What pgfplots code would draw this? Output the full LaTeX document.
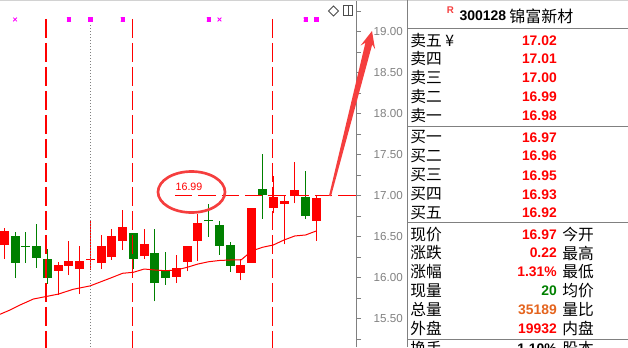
\documentclass[border=0pt]{standalone}
\usepackage{pgfplots}
\pgfplotsset{compat=1.18}
\usepackage{pgfplotstable}
\usepackage{fontspec}
\setmainfont{Liberation Sans}
\newfontfamily\cjk{Noto Sans CJK SC}
\definecolor{upred}{RGB}{255,0,0}
\definecolor{dngreen}{RGB}{0,128,0}
\definecolor{axgray}{RGB}{128,128,128}
\definecolor{mag}{RGB}{255,0,255}
\definecolor{anno}{RGB}{245,62,62}
\definecolor{volc}{RGB}{228,100,30}

% candles: index, body low/high, wick low/high
\pgfplotstableread{
i blo bhi wlo whi
1 16.397 16.568 16.234 16.601
6 16.082 16.152 15.793 16.192
7 16.143 16.201 16.038 16.446
8 16.106 16.201 15.800 16.384
9 16.216 16.228 16.099 16.690
10 16.180 16.384 16.106 16.519
11 16.250 16.507 16.222 16.596
12 16.449 16.617 16.335 16.821
14 16.262 16.409 16.234 16.592
17 16.009 16.115 15.935 16.283
18 16.195 16.384 16.078 16.384
19 16.449 16.662 16.204 16.776
23 16.062 16.160 15.968 16.234
24 16.180 16.853 16.180 16.853
26 16.853 16.988 16.785 17.241
27 16.898 16.939 16.405 17.009
28 17.000 17.070 16.907 17.412
30 16.694 16.968 16.449 17.009
}\redk
\pgfplotstableread{
i blo bhi wlo whi
2 16.180 16.507 15.996 16.556
3 16.375 16.387 16.180 16.556
4 16.241 16.384 16.119 16.654
5 15.996 16.234 15.928 16.356
13 16.229 16.547 16.103 16.547
15 15.935 16.299 15.711 16.592
16 15.996 16.078 15.916 16.315
20 16.688 16.700 16.498 16.898
21 16.388 16.641 16.283 16.690
22 16.143 16.393 16.070 16.433
25 17.012 17.082 16.718 17.510
29 16.755 16.988 16.715 17.302
}\grnk

\begin{document}
\begin{tikzpicture}
\path[use as bounding box, clip] (0,0) rectangle (471pt,-260.25pt);
\begin{axis}[at={(0,0)}, anchor=north west, scale only axis,
  width=267pt, height=260.25pt,
  xmin=0.6003, xmax=33.69, ymin=15.1549, ymax=19.3866,
  axis x line=none, axis y line*=right,
  axis line style={-, axgray, line width=0.75pt},
  ytick={15.5,16,16.5,17,17.5,18,18.5,19},
  minor ytick={15.25,15.75,16.25,16.75,17.25,17.75,18.25,18.75,19.25},
  tick align=outside, major tick length=3.75pt, minor tick length=3.75pt,
  every tick/.style={axgray, line width=0.75pt},
  /pgf/number format/assume math mode=true,
  yticklabel style={text=axgray, font=\fontsize{8.7}{10}\selectfont, xshift=6pt,
    /pgf/number format/.cd, fixed, fixed zerofill, precision=2},
  clip=true]
\addplot[upred, line width=0.75pt, quiver={u=0, v=\thisrow{whi}-\thisrow{wlo}}] table[x=i, y=wlo] {\redk};
\addplot[upred, line width=6.75pt, quiver={u=0, v=\thisrow{bhi}-\thisrow{blo}}] table[x=i, y=blo] {\redk};
\addplot[dngreen, line width=0.75pt, quiver={u=0, v=\thisrow{whi}-\thisrow{wlo}}] table[x=i, y=wlo] {\grnk};
\addplot[dngreen, line width=6.75pt, quiver={u=0, v=\thisrow{bhi}-\thisrow{blo}}] table[x=i, y=blo] {\grnk};
% moving average
\addplot[upred, line width=0.75pt] coordinates {(0.6,15.554) (1.53,15.606) (2.46,15.667) (3.70,15.740) (4.78,15.768) (6.02,15.800) (7.41,15.859) (8.97,15.900) (10.82,15.993) (12,16.054) (13,16.066) (14,16.106) (15,16.094) (16,16.085) (17,16.094) (18,16.127) (19,16.167) (20,16.195) (21,16.21) (22,16.216) (23,16.216) (24,16.326) (25,16.371) (26,16.399) (27,16.460) (28,16.509) (29,16.521) (30,16.570)};
% markers
\addplot[upred, line width=0.9pt, dash pattern=on 13.9pt off 4.1pt] coordinates {(4.876,19.155) (4.876,15.0)};
\addplot[upred, line width=0.9pt, dash pattern=on 13.9pt off 4.1pt] coordinates {(12.935,19.155) (12.935,15.0)};
\addplot[upred, line width=0.9pt, dash pattern=on 13.9pt off 4.1pt] coordinates {(25.91,19.155) (25.91,15.0)};
\addplot[axgray, line width=0.75pt, dash pattern=on 0.75pt off 1.5pt] coordinates {(8.99,19.08) (8.99,15.0)};
\addplot[upred, line width=1pt, dash pattern=on 13pt off 4.5pt] coordinates {(16.87,17) (33.69,17)};
\addplot[only marks, mag, mark=square*, mark size=1.3pt] coordinates {(7,19.149) (9,19.149) (12,19.149) (20,19.149) (29,19.149) (30,19.149)};
\addplot[only marks, mag, mark=x, mark size=2pt, line width=0.6pt] coordinates {(7,19.149) (9,19.149) (12,19.149) (20,19.149) (29,19.149) (30,19.149) (2,19.149) (21,19.149)};
\end{axis}

\begin{scope}[x=0.75pt, y=-0.75pt]
\draw[gray!35, line width=0.75pt] (0,0.5) -- (628,0.5);
% icons
\draw[black!70, line width=0.6pt] (333.5,6) -- (338.5,11) -- (333.5,16) -- (328.5,11) -- cycle;
\draw[black!70, line width=0.6pt] (343.5,5.5) rectangle (352.5,15.5) (348.3,5.5) -- (348.3,15.5);
% annotation
\draw[anno, line width=2pt] (191.5,192) ellipse [x radius=33.5, y radius=20.5];
\node[text=upred, font=\fontsize{8}{9}\selectfont, inner sep=0] at (189,186.5) {16.99};
\fill[anno] (329.0,195.75) -- (365.4,42.7) -- (360.5,45.6) -- (372,31) -- (375.1,49.3) -- (372.2,44.5) -- (331,196.25) -- cycle;
% quote panel
\draw[axgray, line width=0.75pt] (407,0) -- (407,347);
\foreach \yy in {28.3,126,222.7,339} \draw[axgray, line width=0.75pt] (407,\yy) -- (628,\yy);
\node[anchor=west, inner sep=0, text=anno, font=\bfseries\fontsize{7.3}{8}\selectfont] at (446.7,10.3) {R};
\node[anchor=west, inner sep=0, font=\bfseries\fontsize{10.5}{12}\selectfont] at (459.3,15.3) {300128};
\node[anchor=west, inner sep=0, font=\cjk\fontsize{12}{13}\selectfont] at (509,16) {锦富新材};
\tikzset{cn/.style={anchor=west, inner sep=0, font=\cjk\fontsize{11.8}{13}\selectfont},
  nm/.style={anchor=east, inner sep=0, text=upred, font=\bfseries\fontsize{10.4}{12}\selectfont}}
\node[cn] at (410,40.3) {卖五 ¥};  \node[nm] at (557,40.3) {17.02};
\node[cn] at (410,59) {卖四};     \node[nm] at (557,59) {17.01};
\node[cn] at (410,78) {卖三};     \node[nm] at (557,78) {17.00};
\node[cn] at (410,97) {卖二};     \node[nm] at (557,97) {16.99};
\node[cn] at (410,116) {卖一};    \node[nm] at (557,116) {16.98};
\node[cn] at (410,137.3) {买一};  \node[nm] at (557,137.3) {16.97};
\node[cn] at (410,156) {买二};    \node[nm] at (557,156) {16.96};
\node[cn] at (410,175.3) {买三};  \node[nm] at (557,175.3) {16.95};
\node[cn] at (410,194.3) {买四};  \node[nm] at (557,194.3) {16.93};
\node[cn] at (410,213) {买五};    \node[nm] at (557,213) {16.92};
\node[cn] at (410,234.3) {现价};  \node[nm] at (557,234.3) {16.97}; \node[cn] at (562,234.3) {今开};
\node[cn] at (410,253) {涨跌};    \node[nm] at (557,253) {0.22};  \node[cn] at (562,253) {最高};
\node[cn] at (410,272) {涨幅};    \node[nm] at (557,272) {1.31\%}; \node[cn] at (562,272) {最低};
\node[cn] at (410,291) {现量};    \node[nm, text=dngreen] at (557,291) {20}; \node[cn] at (562,291) {均价};
\node[cn] at (410,309.7) {总量};  \node[nm, text=volc] at (557,309.7) {35189}; \node[cn] at (562,309.7) {量比};
\node[cn] at (410,328.7) {外盘};  \node[nm] at (557,328.7) {19932}; \node[cn] at (562,328.7) {内盘};
\node[cn] at (410,348.5) {换手};  \node[nm, text=black] at (557,348.5) {1.10\%}; \node[cn] at (562,348.5) {股本};
\end{scope}
\end{tikzpicture}
\end{document}
